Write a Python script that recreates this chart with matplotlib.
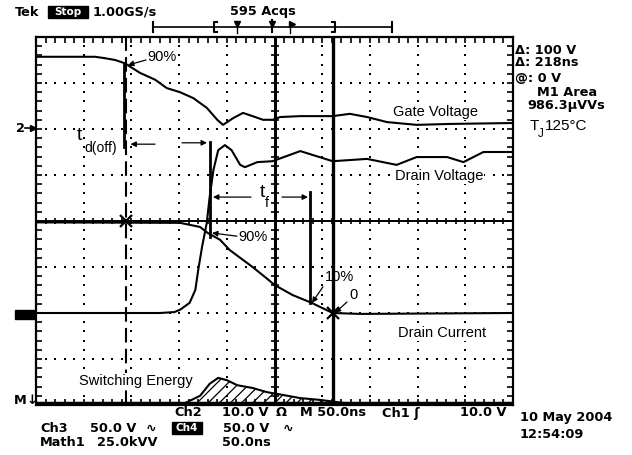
import matplotlib
matplotlib.use('Agg')
import matplotlib.pyplot as plt
from matplotlib.patches import Rectangle
from matplotlib.ticker import MultipleLocator
import numpy as np

plt.rcParams['font.family'] = ['Liberation Sans', 'DejaVu Sans']
plt.rcParams['hatch.linewidth'] = 0.9

W, H = 632, 455

# time in ns (50 ns/div), amplitude in screen divisions from the centre line
t_gate = [-250, -188, -178, -167, -157, -141, -125, -113, -99, -85, -71, -60, -54, -43,
          -33, -23, -12, -2, 6, 27, 61, 79, 97, 118, 149, 184, 250]
gate = [3.57, 3.57, 3.54, 3.50, 3.43, 3.22, 3.07, 2.89, 2.80, 2.67, 2.46, 2.20, 2.09, 2.24,
        2.35, 2.28, 2.20, 2.20, 2.26, 2.28, 2.28, 2.33, 2.26, 2.15, 2.09, 2.11, 2.13]

t_vd = [-250, -120, -105, -99, -89, -83, -80, -76, -71, -68, -64, -59, -52, -45, -36, -31,
        -18, -2, 27, 61, 97, 128, 149, 181, 198, 219, 250]
vd = [-2.0, -2.0, -1.98, -1.93, -1.78, -1.50, -1.07, -0.57, -0.04, 0.52, 1.11, 1.54, 1.65,
      1.54, 1.22, 1.17, 1.28, 1.30, 1.52, 1.30, 1.35, 1.22, 1.39, 1.39, 1.28, 1.50, 1.50]

t_id = [-250, -99, -78, -70, -57, -47, -36, -23, -8, 0, 19, 39, 61, 90, 250]
id_ = [-0.03, -0.04, -0.13, -0.26, -0.41, -0.63, -0.80, -1.0, -1.25, -1.39, -1.61, -1.78,
       -2.0, -2.02, -2.0]

t_e = [-250, -94, -78, -68, -59, -50, -39, -23, -8, 3, 27, 48, 74, 250]
energy = [-3.96, -3.96, -3.80, -3.54, -3.41, -3.46, -3.57, -3.63, -3.72, -3.76, -3.85, -3.89,
          -3.96, -3.96]
e_base = -3.96

# cursors (ns) and the measurement markers (time, top, bottom)
cursor_dash = -156
cursor_solid = 61
marks = [(-158, 3.43, 1.61), (-68, 1.72, -0.35), (37, 0.63, -1.78)]
crosses_t = [-156, 61]
crosses_v = [0.0, -2.0]

scope_font = dict(family='DejaVu Sans', weight='bold', fontsize=9.3, color='k')

fig = plt.figure(figsize=(W / 100, H / 100), dpi=100)
ov = fig.add_axes([0, 0, 1, 1])
ov.set_xlim(0, W)
ov.set_ylim(H, 0)
ov.axis('off')

ax = fig.add_axes([36 / W, 1 - 405 / H, 477 / W, 368 / H])
ax.set_xlim(-250, 250)
ax.set_ylim(-4, 4)
for s in ax.spines.values():
    s.set_linewidth(1.6)
ax.xaxis.set_major_locator(MultipleLocator(50))
ax.xaxis.set_minor_locator(MultipleLocator(10))
ax.yaxis.set_major_locator(MultipleLocator(1))
ax.yaxis.set_minor_locator(MultipleLocator(0.2))
ax.tick_params(which='both', direction='in', length=4, width=1.2, top=True, right=True,
               labelbottom=False, labelleft=False)

# graticule
for gx in range(-200, 201, 50):
    if gx != 0:
        ax.plot(np.full(41, gx), np.linspace(-4, 4, 41), ls='none', marker='s', ms=1.5,
                mew=0, color='k')
for gy in range(-3, 4):
    if gy != 0:
        ax.plot(np.arange(-250, 251, 10), np.full(51, gy), ls='none', marker='s', ms=1.5,
                mew=0, color='k')
ax.axhline(0, color='k', lw=1.4)
ax.plot(np.arange(-250, 251, 10), np.zeros(51), ls='none', marker='|', ms=5, mew=1.2, color='k')
ax.axvline(0, color='k', lw=2.2)
ax.plot(np.zeros(41), np.linspace(-4, 4, 41), ls='none', marker='_', ms=6, mew=1.2, color='k')

# cursors
ax.axvline(cursor_dash, color='k', lw=1.5, ls=(0, (7, 3)))
ax.axvline(cursor_solid, color='k', lw=2.4)
for t, a, b in marks:
    ax.plot([t, t], [a, b], color='k', lw=2)

# traces
ax.plot(t_gate, gate, color='k', lw=1.5)
ax.plot(t_vd, vd, color='k', lw=1.5)
ax.plot(t_id, id_, color='k', lw=1.5)
ax.fill_between(t_e, e_base, energy, facecolor='none', edgecolor='k', hatch='///', lw=0)
ax.plot(t_e, energy, color='k', lw=1.5)
ax.plot(t_e, [e_base] * len(t_e), color='k', lw=2.5)
ax.plot(crosses_t, crosses_v, ls='none', marker='x', ms=9, mew=1.6, color='k')

# annotations
arr = dict(arrowstyle='-|>', color='k', lw=0.9, mutation_scale=8, shrinkA=0, shrinkB=0)
txt = dict(fontsize=10.5, color='k', va='center', ha='left')
box = dict(facecolor='white', edgecolor='none', pad=0.5)
ax.annotate('', xy=(-153.6, 3.39), xytext=(-134.7, 3.50), arrowprops=arr)
ax.text(-133.5, 3.57, '90%', **txt)
ax.annotate('', xy=(-151, 1.67), xytext=(-125.3, 1.67), arrowprops=arr)
ax.annotate('', xy=(-70.8, 1.70), xytext=(-97, 1.70), arrowprops=arr)
ax.annotate('', xy=(-64.5, 0.52), xytext=(-24.6, 0.52), arrowprops=arr)
ax.annotate('', xy=(35.1, 0.52), xytext=(7.9, 0.52), arrowprops=arr)
ax.annotate('', xy=(-65.5, -0.26), xytext=(-39.3, -0.33), arrowprops=arr)
ax.text(-38.3, -0.35, '90%', **txt)
ax.annotate('', xy=(39.3, -1.78), xytext=(50.8, -1.43), arrowprops=arr)
ax.text(53, -1.22, '10%', **txt)
ax.annotate('', xy=(63.4, -2.0), xytext=(76, -1.76), arrowprops=arr)
ax.text(79, -1.61, '0', **txt)
ax.text(-207, 1.85, 't', fontsize=14, va='center')
ax.text(-199, 1.58, 'd(off)', fontsize=10, va='center')
ax.text(-15.5, 0.63, 't', fontsize=14, va='center')
ax.text(-10, 0.40, 'f', fontsize=10, va='center')
ax.text(124.3, 2.37, 'Gate Voltage', bbox=box, **txt)
ax.text(126.3, 0.98, 'Drain Voltage', bbox=box, **txt)
ax.text(129.4, -2.43, 'Drain Current', bbox=box, **txt)
ax.text(-204.9, -3.48, 'Switching Energy', bbox=box, **txt)

# scope readouts around the screen
ov.text(15, 12, 'Tek', va='center', **scope_font)
ov.add_patch(Rectangle((48, 6), 40, 12, color='k'))
ov.text(68, 12, 'Stop', va='center', ha='center', family='DejaVu Sans', weight='bold',
        fontsize=7.5, color='w')
ov.text(93, 12, '1.00GS/s', va='center', **scope_font)
ov.text(230, 12, '595 Acqs', va='center', **scope_font)
ov.plot([153, 392], [27, 27], color='k', lw=1.2)
for x in [153, 392]:
    ov.plot([x, x], [22, 32], color='k', lw=1.5)
ov.plot([217, 214, 214, 217], [22, 22, 32, 32], color='k', lw=1.5)
ov.plot([332, 335, 335, 332], [22, 22, 32, 32], color='k', lw=1.5)
ov.plot([237, 237], [22, 33], color='k', lw=1)
ov.plot([237], [24], marker='v', ms=5, color='k')
ov.plot([272, 272], [20, 32], color='k', lw=1.5)
ov.plot([272], [24], marker='v', ms=5, color='k')
ov.plot([290, 290], [22, 33], color='k', lw=1)
ov.plot([292], [24], marker='>', ms=5, color='k')

ov.text(16, 128, '2', va='center', **scope_font)
ov.plot([25, 33], [128, 128], color='k', lw=1.2)
ov.plot([33], [128], marker='>', ms=4, color='k')
ov.add_patch(Rectangle((15, 310), 21, 9, color='k'))
ov.text(14, 400, 'M', va='center', **scope_font)
ov.text(27, 400, '↓', va='center', **scope_font)

right = [('Δ: 100 V', 515, 50), ('Δ: 218ns', 515, 63), ('@: 0 V', 515, 78),
         ('M1 Area', 537, 92), ('986.3μVVs', 527, 106)]
for s, x, y in right:
    ov.text(x, y, s, va='center', **scope_font)
ov.text(530, 126, 'T', fontsize=11, va='center')
ov.text(538, 134, 'J', fontsize=8.5, va='center')
ov.text(545, 126, '125°C', fontsize=11, va='center')

bottom = [('Ch2', 174, 412), ('10.0 V', 222, 412), ('Ω', 276, 412), ('M 50.0ns', 300, 413),
          ('Ch1 ʃ', 382, 413), ('10.0 V', 460, 413),
          ('Ch3', 40, 428), ('50.0 V', 90, 428), ('∿', 146, 428), ('50.0 V', 223, 428),
          ('∿', 283, 428), ('Math1', 40, 442), ('25.0kVV', 97, 442), ('50.0ns', 222, 442),
          ('10 May 2004', 520, 417), ('12:54:09', 520, 435)]
for s, x, y in bottom:
    ov.text(x, y, s, va='center', **scope_font)
ov.add_patch(Rectangle((172, 422), 30, 12, color='k'))
ov.text(187, 428, 'Ch4', va='center', ha='center', family='DejaVu Sans', weight='bold',
        fontsize=7.5, color='w')

fig.savefig('out.png', dpi=100)
